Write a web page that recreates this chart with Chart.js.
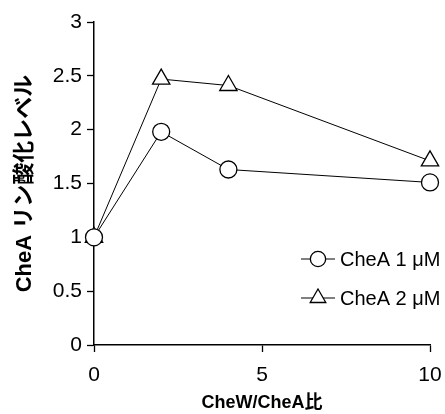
<!DOCTYPE html>
<html lang="ja">
<head>
  <meta charset="UTF-8">
  <title>CheA リン酸化レベル</title>
  <script src="https://cdn.jsdelivr.net/npm/chart.js"></script>
  <style>
    html, body { margin: 0; padding: 0; background: #fff; }
    #wrap { width: 445px; height: 414px; }
  </style>
</head>
<body>
  <div id="wrap"><canvas id="chart" width="445" height="414"></canvas></div>

  <script>
    // data
    const ratios = [0, 2, 4, 10];
    const chea1uM = [1.0, 1.98, 1.63, 1.51];
    const chea2uM = [1.0, 2.47, 2.41, 1.71];
    const seriesNames = ['CheA 1 μM', 'CheA 2 μM'];
    const xTicks = [0, 5, 10];
    const yTicks = [0, 0.5, 1, 1.5, 2, 2.5, 3];

    const FONT = "'Liberation Sans', 'Noto Sans CJK JP', Arial, sans-serif";

    const toPoints = vals => ratios.map((x, i) => ({ x: x, y: vals[i] }));

    // legend drawn inside the plot, lower right
    const insideLegend = {
      id: 'insideLegend',
      afterDraw(chart) {
        const ctx = chart.ctx;
        const area = chart.chartArea;
        const rows = [area.top + 237, area.top + 276];
        ctx.save();
        chart.data.datasets.forEach((ds, i) => {
          const y = rows[i];
          const x0 = area.right - 129;
          ctx.strokeStyle = '#000';
          ctx.lineWidth = 1;
          ctx.beginPath();
          ctx.moveTo(x0, y);
          ctx.lineTo(x0 + 34, y);
          ctx.stroke();
          ctx.fillStyle = '#fff';
          ctx.strokeStyle = '#000';
          ctx.lineWidth = ds.pointBorderWidth;
          Chart.helpers.drawPoint(ctx, {
            pointStyle: ds.pointStyle,
            radius: ds.pointRadius * 0.9,
            borderWidth: ds.pointBorderWidth
          }, x0 + 17, y);
          ctx.fillStyle = '#000';
          ctx.font = '20px ' + FONT;
          ctx.textAlign = 'left';
          ctx.textBaseline = 'middle';
          ctx.fillText(ds.label, x0 + 39, y + 1);
        });
        ctx.restore();
      }
    };

    const mkSet = (label, vals, style, r) => ({
      label: label,
      data: toPoints(vals),
      borderColor: '#000',
      borderWidth: 1,
      backgroundColor: '#fff',
      pointStyle: style,
      pointRadius: r,
      pointHoverRadius: r,
      pointBackgroundColor: '#fff',
      pointBorderColor: '#000',
      pointBorderWidth: 1.3,
      tension: 0,
      clip: false
    });

    new Chart(document.getElementById('chart'), {
      type: 'line',
      data: {
        datasets: [
          mkSet(seriesNames[0], chea1uM, 'circle', 8.5),
          mkSet(seriesNames[1], chea2uM, 'triangle', 10)
        ]
      },
      options: {
        responsive: false,
        animation: false,
        layout: { padding: { top: 22, right: 15, left: 0, bottom: 0 } },
        plugins: {
          legend: { display: false },
          tooltip: { enabled: false }
        },
        scales: {
          x: {
            type: 'linear',
            min: 0,
            max: 10,
            afterBuildTicks: s => { s.ticks = xTicks.map(v => ({ value: v })); },
            afterFit: s => { s.height = 69; s.paddingRight = 0; s.paddingLeft = 0; },
            grid: { drawOnChartArea: false, drawTicks: true, tickLength: 7, tickColor: '#000', tickWidth: 1.3 },
            border: { color: '#000', width: 1.5 },
            ticks: { color: '#000', padding: 11, maxRotation: 0, font: { size: 21, family: FONT } },
            title: {
              display: true,
              text: 'CheW/CheA比',
              color: '#000',
              padding: { top: 0, bottom: 0 },
              font: { size: 18, weight: 'bold', family: FONT }
            }
          },
          y: {
            min: 0,
            max: 3,
            afterBuildTicks: s => { s.ticks = yTicks.map(v => ({ value: v })); },
            afterFit: s => { s.width = 94; s.paddingTop = 0; s.paddingBottom = 0; },
            grid: { drawOnChartArea: false, drawTicks: true, tickLength: 7, tickColor: '#000', tickWidth: 1.3 },
            border: { color: '#000', width: 1.5 },
            ticks: {
              color: '#000',
              padding: 5,
              font: { size: 21, family: FONT },
              callback: v => String(v)
            },
            title: {
              display: true,
              text: 'CheA リン酸化レベル',
              color: '#000',
              padding: { top: 12, bottom: 0 },
              font: { size: 22, weight: 'bold', family: FONT }
            }
          }
        }
      },
      plugins: [insideLegend]
    });
  </script>
</body>
</html>
